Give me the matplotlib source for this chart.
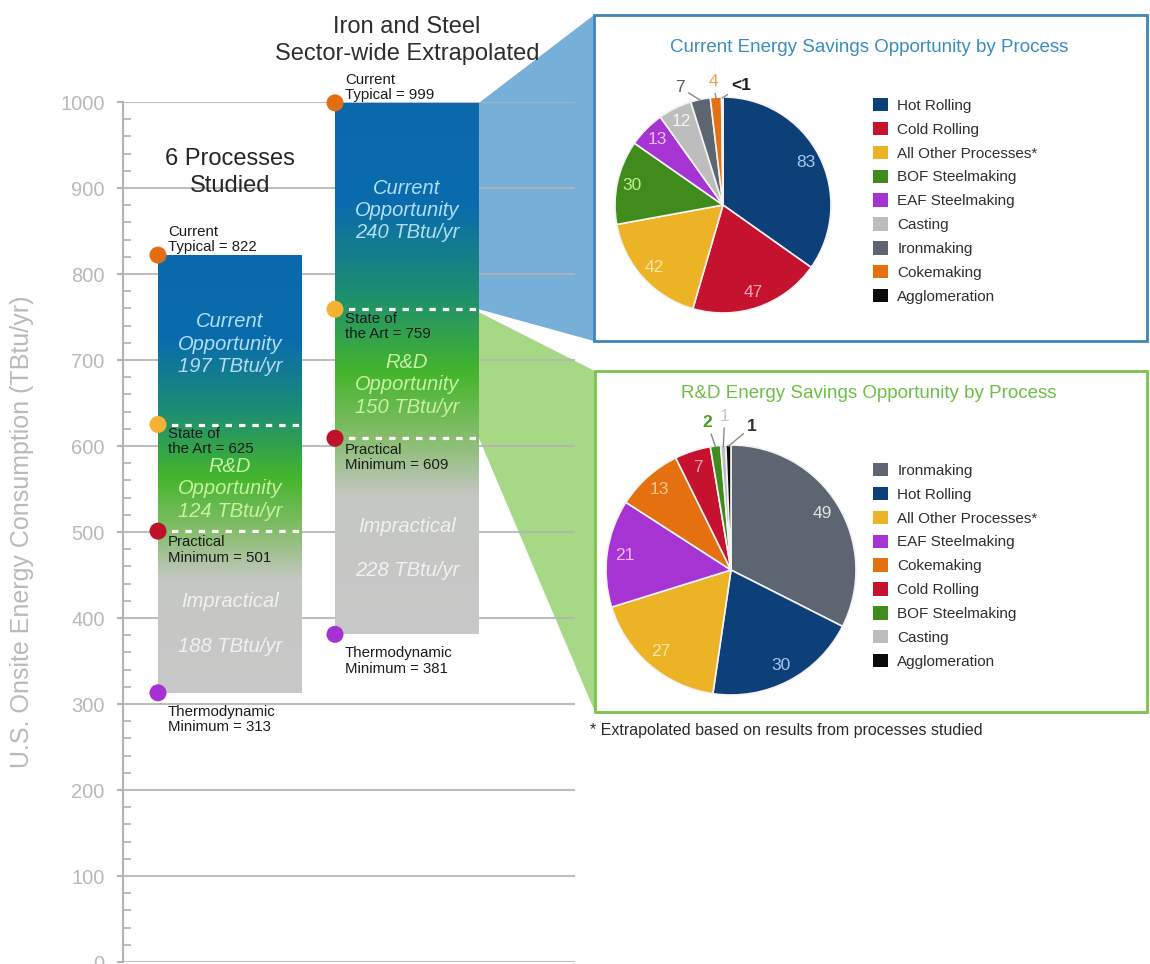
import numpy as np
import matplotlib
matplotlib.use("Agg")
import matplotlib.pyplot as plt
from matplotlib.colors import LinearSegmentedColormap
from matplotlib.patches import Polygon, Rectangle, Patch
from matplotlib.ticker import MultipleLocator

plt.rcParams['font.family'] = ['Liberation Sans', 'DejaVu Sans']

W, H = 1150, 964

# ---------------- data ----------------
groups = ["6 Processes\nStudied", "Iron and Steel\nSector-wide Extrapolated"]
current_typical = [822, 999]
state_of_art = [625, 759]
practical_min = [501, 609]
thermo_min = [313, 381]

current_procs = ["Hot Rolling", "Cold Rolling", "All Other Processes*", "BOF Steelmaking",
                 "EAF Steelmaking", "Casting", "Ironmaking", "Cokemaking", "Agglomeration"]
current_vals = [83, 47, 42, 30, 13, 12, 7, 4, 0.5]
current_text = ["83", "47", "42", "30", "13", "12", "7", "4", "<1"]

rd_procs = ["Ironmaking", "Hot Rolling", "All Other Processes*", "EAF Steelmaking",
            "Cokemaking", "Cold Rolling", "BOF Steelmaking", "Casting", "Agglomeration"]
rd_vals = [49, 30, 27, 21, 13, 7, 2, 1, 1]
rd_text = ["49", "30", "27", "21", "13", "7", "2", "1", "1"]

# ---------------- styling ----------------
proc_colors = {
    "Hot Rolling": "#0d3f79",
    "Cold Rolling": "#c5122f",
    "All Other Processes*": "#ebb325",
    "BOF Steelmaking": "#3f8c1d",
    "EAF Steelmaking": "#a534d3",
    "Casting": "#bdbdbd",
    "Ironmaking": "#5d6670",
    "Cokemaking": "#e5700f",
    "Agglomeration": "#0a0a0a",
}
label_tints = {
    "Hot Rolling": "#a9c6ea",
    "Cold Rolling": "#f5a3b3",
    "All Other Processes*": "#f9e6a6",
    "BOF Steelmaking": "#c3ee92",
    "EAF Steelmaking": "#f2bbf8",
    "Casting": "#f4f4f4",
    "Ironmaking": "#e2e2e2",
    "Cokemaking": "#f9cb92",
    "Agglomeration": "#ffffff",
}
dot_colors = ["#e36d12", "#f2b233", "#c0112b", "#a431d2"]
grid_col = "#b3b3b3"
tick_col = "#b9b9b9"


def fx(px):
    return px / W


def fy(py):
    return 1 - py / H


fig = plt.figure(figsize=(W / 100, H / 100), dpi=100)

# underlay in pixel coordinates for the callout shapes and boxes
under = fig.add_axes([0, 0, 1, 1], zorder=0)
under.set_xlim(0, W)
under.set_ylim(H, 0)
under.axis("off")

# ---------------- main stacked-range chart ----------------
ax_left_px, ax_right_px, ax_top_px, ax_bot_px = 122.7, 575, 102, 962
unit_px = 177.0          # pixel distance between the two bar centres
centre0_px = 230.0
ax = fig.add_axes([fx(ax_left_px), fy(ax_bot_px), (ax_right_px - ax_left_px) / W,
                   (ax_bot_px - ax_top_px) / H], zorder=1)
ax.set_facecolor("none")
ax.set_xlim((ax_left_px - centre0_px) / unit_px, (ax_right_px - centre0_px) / unit_px)
ax.set_ylim(0, 1000)
bar_w = 144 / unit_px

for s in ["top", "right", "bottom"]:
    ax.spines[s].set_visible(False)
ax.spines["left"].set_color(grid_col)
ax.spines["left"].set_linewidth(1.5)
ax.set_xticks([])
ax.yaxis.set_major_locator(MultipleLocator(100))
ax.yaxis.set_minor_locator(MultipleLocator(20))
ax.tick_params(axis="y", which="major", direction="out", length=4, width=1.5,
               color=grid_col, labelcolor=tick_col, labelsize=14.5, pad=9)
ax.tick_params(axis="y", which="minor", direction="in", length=5.8, width=1.2, color=grid_col)
ax.grid(axis="y", which="major", color=grid_col, linewidth=1.5, alpha=0.85)
ax.set_axisbelow(True)
ax.set_ylabel("U.S. Onsite Energy Consumption (TBtu/yr)", color="#bababa", fontsize=18)
ax.yaxis.set_label_coords((34 - ax_left_px) / (ax_right_px - ax_left_px), 0.5)

blue, teal, green, lgreen, gray = "#0b6cac", "#1b8c74", "#45b52c", "#86bd6c", "#c8c8c8"

for i in range(2):
    top, sa, pm, bot = current_typical[i], state_of_art[i], practical_min[i], thermo_min[i]
    span = top - bot
    stops = [
        (bot, gray),
        (pm - 0.3 * (pm - bot), "#c5c7c3"),
        (pm, lgreen),
        (sa - 0.5 * (sa - pm), green),
        (sa + 0.1 * (top - sa), teal),
        (sa + 0.5 * (top - sa), blue),
        (top, "#0a69ac"),
    ]
    cmap = LinearSegmentedColormap.from_list(
        f"bar{i}", [((v - bot) / span, c) for v, c in stops])
    rect = ax.bar(i, span, bottom=bot, width=bar_w, color="none", zorder=2)[0]
    grad = np.linspace(0, 1, 500).reshape(-1, 1)
    im = ax.imshow(grad, cmap=cmap, extent=[i - bar_w / 2, i + bar_w / 2, bot, top],
                   origin="lower", aspect="auto", zorder=2)
    im.set_clip_path(rect)

    # dashed level lines
    for lvl in (sa, pm):
        ax.hlines(lvl, i - bar_w / 2, i + bar_w / 2, colors="white", linestyles=(0, (2, 2.2)),
                  linewidth=2.3, zorder=4)

    # level markers
    xl = i - bar_w / 2
    ax.scatter([xl] * 4, [top, sa, pm, bot], s=150, c=dot_colors, zorder=6, clip_on=False,
               linewidths=0)

    tx = xl + 10 / unit_px
    kw = dict(fontsize=10.8, color="#1c1c1c", linespacing=1.12, ha="left", zorder=7)
    ax.text(tx, top + 1, f"Current\nTypical = {top}", va="bottom", **kw)
    ax.text(tx, sa - 3, f"State of\nthe Art = {sa}", va="top", **kw)
    ax.text(tx, pm - 5, f"Practical\nMinimum = {pm}", va="top", **kw)
    ax.text(tx, bot - 14, f"Thermodynamic\nMinimum = {bot}", va="top", **kw)

    # segment captions
    ikw = dict(fontsize=14.5, style="italic", ha="center", va="center", linespacing=1.22, zorder=7)
    ax.text(i, (top + sa) / 2 - 5, f"Current\nOpportunity\n{top - sa} TBtu/yr",
            color="#b2ddf6", **ikw)
    ax.text(i, (sa + pm) / 2 - 13, f"R&D\nOpportunity\n{sa - pm} TBtu/yr",
            color="#c6f2a2", **ikw)
    ax.text(i, (pm + bot) / 2 - 14, f"Impractical\n\n{pm - bot} TBtu/yr",
            color="#f1f1f1", **ikw)

# group titles
ax.text(0, 918, groups[0], ha="center", va="center", fontsize=17, color="#262626",
        linespacing=1.3, clip_on=False)
ax.text(1, 1071, groups[1], ha="center", va="center", fontsize=17, color="#2e2e2e",
        linespacing=1.3, clip_on=False)


# ---------------- callout shapes ----------------
def to_px(x, y):
    disp = ax.transData.transform((x, y))
    return under.transData.inverted().transform(disp)


bar_r = 1 + bar_w / 2
p_top = to_px(bar_r, current_typical[1])
p_sa = to_px(bar_r, state_of_art[1])
p_pm = to_px(bar_r, practical_min[1])

box1 = (594, 15, 1147, 341)
box2 = (595, 371, 1147, 712)

under.add_patch(Polygon([p_top, (box1[0], box1[1]), (box1[0], box1[3]), p_sa],
                        closed=True, facecolor="#76afd8", edgecolor="none", zorder=1))
under.add_patch(Polygon([(p_sa[0], p_sa[1] + 3), (box2[0], box2[1]), (box2[0], box2[3]), p_pm],
                        closed=True, facecolor="#a7d886", edgecolor="none", zorder=1))
under.add_patch(Rectangle((box1[0], box1[1]), box1[2] - box1[0], box1[3] - box1[1],
                          facecolor="white", edgecolor="#3f86bd", linewidth=2, zorder=2))
under.add_patch(Rectangle((box2[0], box2[1]), box2[2] - box2[0], box2[3] - box2[1],
                          facecolor="white", edgecolor="#7cc24b", linewidth=2, zorder=2))


# ---------------- pies ----------------
def draw_pie(cx, cy, r, procs, vals, texts, n_inside, outside, title, title_col, title_y,
             legend_top):
    pax = fig.add_axes([fx(cx - r), fy(cy + r), 2 * r / W, 2 * r / H], zorder=3)
    cols = [proc_colors[p] for p in procs]
    wedges, _ = pax.pie(vals, colors=cols, startangle=90, counterclock=False,
                        wedgeprops=dict(edgecolor="#f3f3f3", linewidth=1.2))
    pax.set_xlim(-1, 1)
    pax.set_ylim(-1, 1)
    for k, w in enumerate(wedges):
        mid = np.deg2rad((w.theta1 + w.theta2) / 2)
        if k < n_inside:
            pax.text(0.86 * np.cos(mid), 0.86 * np.sin(mid), texts[k], ha="center",
                     va="center", fontsize=12.5, color=label_tints[procs[k]])
        else:
            (lx, ly), col, bold = outside[k - n_inside]
            pax.annotate(texts[k], xy=(0.99 * np.cos(mid), 0.99 * np.sin(mid)),
                         xytext=(lx, ly), ha="center", va="center", fontsize=12.5,
                         color=col, fontweight="bold" if bold else "normal",
                         annotation_clip=False,
                         arrowprops=dict(arrowstyle="-", color="#8a8a8a", lw=1,
                                         shrinkA=1, shrinkB=0))
    fig.text(fx(869), fy(title_y), title, ha="center", va="center", fontsize=13.5,
             color=title_col)
    handles = [Patch(facecolor=c, edgecolor="none") for c in cols]
    fig.legend(handles, procs, loc="upper left", bbox_to_anchor=(fx(873), fy(legend_top)),
               frameon=False, fontsize=11, handlelength=0.98, handleheight=0.98,
               handletextpad=0.6, labelspacing=0.58, borderpad=0, borderaxespad=0,
               labelcolor="#2f2f2f")
    return pax


draw_pie(723, 205, 108, current_procs, current_vals, current_text, 6,
         [((-0.40, 1.09), "#5c5c5c", False),
          ((-0.09, 1.14), "#f0a052", False),
          ((0.17, 1.11), "#1e1e1e", True)],
         "Current Energy Savings Opportunity by Process", "#3a8cc1", 47, 98)

draw_pie(731, 570, 125, rd_procs, rd_vals, rd_text, 6,
         [((-0.19, 1.18), "#4b9b22", True),
          ((-0.05, 1.23), "#c9c9c9", False),
          ((0.17, 1.15), "#333333", True)],
         "R&D Energy Savings Opportunity by Process", "#6cbf45", 393, 463)

fig.text(fx(590), fy(731), "* Extrapolated based on results from processes studied",
         ha="left", va="center", fontsize=11.5, color="#2a2a2a")

fig.savefig("out.png", dpi=100)
